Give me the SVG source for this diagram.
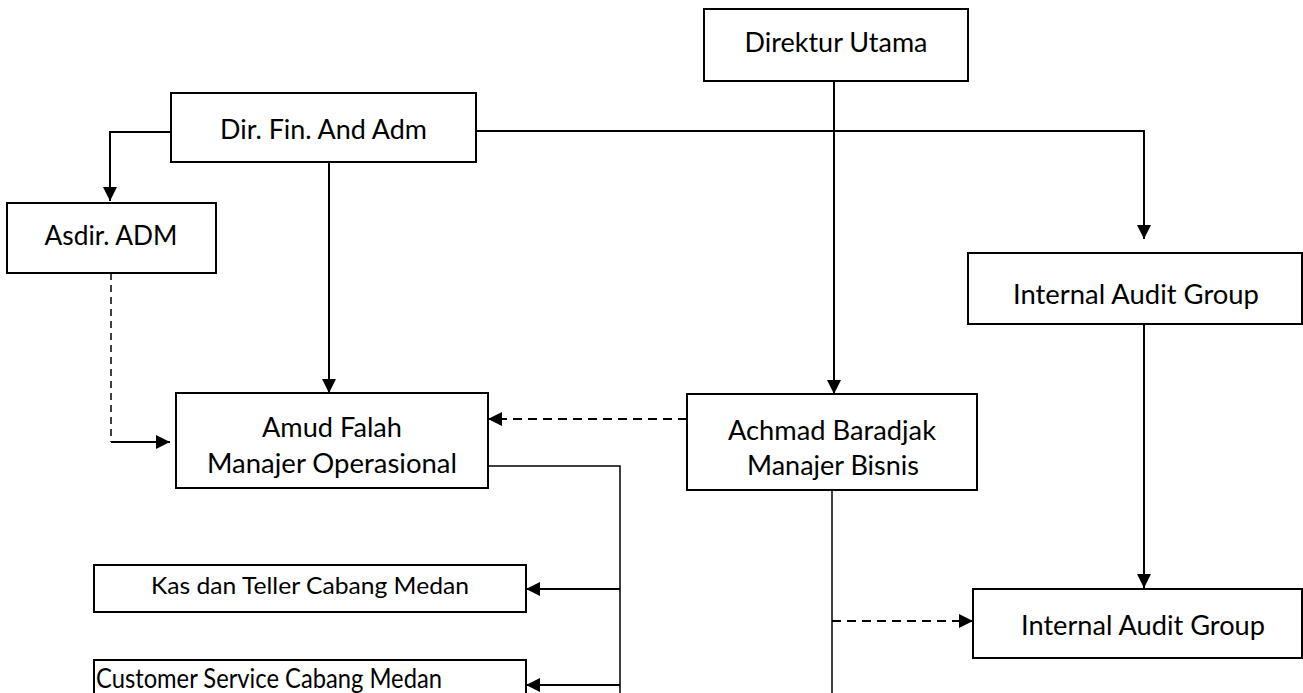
<svg xmlns="http://www.w3.org/2000/svg" width="1303" height="693" viewBox="0 0 1303 693">
<defs>
<style>
.box{fill:#fff;stroke:#000;stroke-width:2}
.t{font-family:Lato,"Open Sans","Liberation Sans",sans-serif;font-size:27px;fill:#000;text-anchor:middle}
.ln{fill:none;stroke:#000;stroke-width:2}
.thin{fill:none;stroke:#000;stroke-width:1.5}
.dash{fill:none;stroke:#000;stroke-width:2;stroke-dasharray:9 6}
.dashv{fill:none;stroke:#000;stroke-width:1.5;stroke-dasharray:7 5}
</style>
<marker id="ah" viewBox="0 0 14 14" refX="14" refY="7" markerWidth="14" markerHeight="14" markerUnits="userSpaceOnUse" orient="auto">
<path d="M0,0 L14,7 L0,14 z" fill="#000"/>
</marker>
</defs>
<rect width="1303" height="693" fill="#fff"/>
<g id="connectors">
<path class="ln" d="M834,81 V394" marker-end="url(#ah)"/>
<path class="ln" d="M171,132 H110 V201" marker-end="url(#ah)"/>
<path class="ln" d="M329,162 V393" marker-end="url(#ah)"/>
<path class="ln" d="M476,131 H1144 V239" marker-end="url(#ah)"/>
<path class="ln" d="M1144,324 V588" marker-end="url(#ah)"/>
<path class="dashv" d="M111,273 V442"/>
<path class="ln" d="M111,442 H170" marker-end="url(#ah)"/>
<path class="dash" d="M687,419 H488" marker-end="url(#ah)"/>
<path class="thin" d="M488,466 H620 V693"/>
<path class="ln" d="M620,589 H526" marker-end="url(#ah)"/>
<path class="ln" d="M620,685 H526" marker-end="url(#ah)"/>
<path class="thin" d="M832,490 V693"/>
<path class="dash" d="M832,621 H973" marker-end="url(#ah)"/>
</g>
<g id="direktur-utama">
<rect class="box" x="704" y="9" width="264" height="72"/>
<text class="t" x="836" y="52" textLength="183" lengthAdjust="spacingAndGlyphs">Direktur Utama</text>
</g>
<g id="dir-fin-adm">
<rect class="box" x="171" y="93" width="305" height="69"/>
<text class="t" x="323.5" y="139" textLength="207" lengthAdjust="spacingAndGlyphs">Dir. Fin. And Adm</text>
</g>
<g id="asdir-adm">
<rect class="box" x="7" y="203" width="209" height="70"/>
<text class="t" x="111" y="245" textLength="133" lengthAdjust="spacingAndGlyphs">Asdir. ADM</text>
</g>
<g id="internal-audit-1">
<rect class="box" x="968" y="253" width="334" height="71"/>
<text class="t" x="1136" y="304" textLength="246" lengthAdjust="spacingAndGlyphs">Internal Audit Group</text>
</g>
<g id="amud-falah">
<rect class="box" x="176" y="393" width="312" height="95"/>
<text class="t" x="332" y="437" textLength="140" lengthAdjust="spacingAndGlyphs">Amud Falah</text>
<text class="t" x="332" y="473" textLength="250" lengthAdjust="spacingAndGlyphs">Manajer Operasional</text>
</g>
<g id="achmad-baradjak">
<rect class="box" x="687" y="394" width="290" height="96"/>
<text class="t" x="832" y="440" textLength="208" lengthAdjust="spacingAndGlyphs">Achmad Baradjak</text>
<text class="t" x="833" y="475" textLength="172" lengthAdjust="spacingAndGlyphs">Manajer Bisnis</text>
</g>
<g id="internal-audit-2">
<rect class="box" x="973" y="589" width="329" height="69"/>
<text class="t" x="1143" y="635" textLength="244" lengthAdjust="spacingAndGlyphs">Internal Audit Group</text>
</g>
<g id="kas-teller">
<rect class="box" x="94" y="565" width="432" height="47"/>
<text class="t" x="310" y="594" style="font-size:24px" textLength="318" lengthAdjust="spacingAndGlyphs">Kas dan Teller Cabang Medan</text>
</g>
<g id="customer-service">
<rect class="box" x="94" y="660" width="432" height="45"/>
<text class="t" x="96" y="688" style="font-size:27px;text-anchor:start" textLength="346" lengthAdjust="spacingAndGlyphs">Customer Service Cabang Medan</text>
</g>
</svg>
